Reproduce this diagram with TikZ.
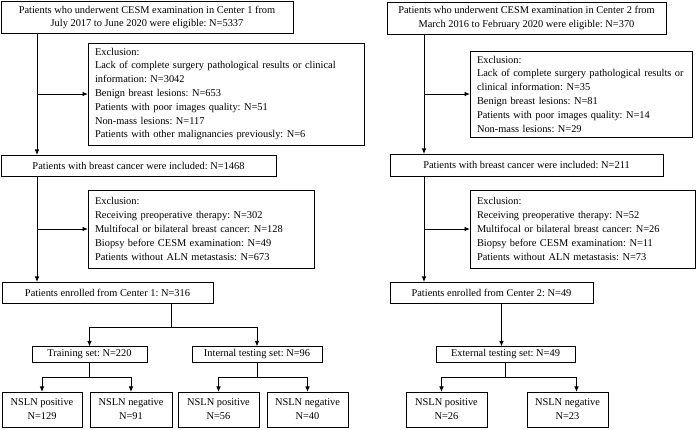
\documentclass[tikz,border=0pt]{standalone}
\usepackage{fontspec}
\setmainfont{Liberation Serif}
\usetikzlibrary{arrows.meta}

\tikzset{
  box/.style={draw, line width=0.9pt, inner sep=0pt, outer sep=0pt, align=center,
    font=\fontsize{10.4}{13.8}\selectfont\frenchspacing},
  exbox/.style={box, align=left, inner xsep=7pt},
  arr/.style={line width=0.9pt, -{Latex[length=5.5pt,width=4.5pt]}},
  line/.style={line width=0.9pt}
}

\begin{document}
\begin{tikzpicture}[x=1pt,y=-1pt]
    \useasboundingbox (0,0) rectangle (697,430);

    % Center 1
    \node[box, minimum width=292pt, minimum height=32pt] (c1top) at (147,17.5)
        {Patients who underwent CESM examination in Center 1 from\\ July 2017 to June 2020 were eligible: N=5337};
    \node[exbox, text width=262pt, minimum height=102pt] (c1exA) at (226,94)
        {Exclusion:\\ Lack of complete surgery pathological results or clinical\\ information: N=3042\\ Benign breast lesions: N=653\\ Patients with poor images quality: N=51\\ Non-mass lesions: N=117\\ Patients with other malignancies previously: N=6};
    \node[box, minimum width=275pt, minimum height=21pt] (c1inc) at (138.5,165.5)
        {Patients with breast cancer were included: N=1468};
    \node[exbox, text width=212pt, minimum height=78pt] (c1exB) at (201,229)
        {Exclusion:\\ Receiving preoperative therapy: N=302\\ Multifocal or bilateral breast cancer: N=128\\ Biopsy before CESM examination: N=49\\ Patients without ALN metastasis: N=673};
    \node[box, minimum width=211pt, minimum height=21pt] (c1enr) at (107.5,292.5)
        {Patients enrolled from Center 1: N=316};
    \node[box, minimum width=115pt, minimum height=16pt] (train) at (89.5,354.5)
        {Training set: N=220};
    \node[box, minimum width=130pt, minimum height=16pt] (inter) at (257,354.5)
        {Internal testing set: N=96};
    \node[box, minimum width=80pt, minimum height=35pt] (trpos) at (42,409.5)
        {NSLN positive\\ N=129};
    \node[box, minimum width=82pt, minimum height=35pt] (trneg) at (131,409.5)
        {NSLN negative\\ N=91};
    \node[box, minimum width=81pt, minimum height=35pt] (inpos) at (218.5,409.5)
        {NSLN positive\\ N=56};
    \node[box, minimum width=81pt, minimum height=35pt] (inneg) at (307.5,409.5)
        {NSLN negative\\ N=40};

    % Center 2
    \node[box, minimum width=279pt, minimum height=32pt] (c2top) at (526.5,18)
        {Patients who underwent CESM examination in Center 2 from\\ March 2016 to February 2020 were eligible: N=370};
    \node[exbox, text width=208pt, minimum height=86pt] (c2exA) at (581,94)
        {Exclusion:\\ Lack of complete surgery pathological results or\\ clinical information: N=35\\ Benign breast lesions: N=81\\ Patients with poor images quality: N=14\\ Non-mass lesions: N=29};
    \node[box, minimum width=273pt, minimum height=22pt] (c2inc) at (526.5,165)
        {Patients with breast cancer were included: N=211};
    \node[exbox, text width=211pt, minimum height=78pt] (c2exB) at (582.5,229)
        {Exclusion:\\ Receiving preoperative therapy: N=52\\ Multifocal or bilateral breast cancer: N=26\\ Biopsy before CESM examination: N=11\\ Patients without ALN metastasis: N=73};
    \node[box, minimum width=203pt, minimum height=21pt] (c2enr) at (491.5,292.5)
        {Patients enrolled from Center 2: N=49};
    \node[box, minimum width=139pt, minimum height=16pt] (ext) at (505.5,354.5)
        {External testing set: N=49};
    \node[box, minimum width=81pt, minimum height=35pt] (expos) at (446.5,409.5)
        {NSLN positive\\ N=26};
    \node[box, minimum width=81pt, minimum height=35pt] (exneg) at (567.5,409.5)
        {NSLN negative\\ N=23};

    % Trunks
    \coordinate (t1) at (37,0);
    \coordinate (t2) at (424,0);
    \coordinate (j1) at (171,327);

    % Arrows, Center 1
    \draw[arr] (c1top.south -| t1) -- (c1inc.north -| t1);
    \draw[arr] (t1 |- c1exA.west) -- (c1exA.west);
    \draw[arr] (c1inc.south -| t1) -- (c1enr.north -| t1);
    \draw[arr] (t1 |- c1exB.west) -- (c1exB.west);
    \draw[line] (c1enr.south -| j1) -- (j1);
    \draw[arr] (j1) -| (train.north);
    \draw[arr] (j1) -| (inter.north);
    \draw[line] (train.south) -- ++(0,15) coordinate (j2);
    \draw[arr] (j2) -| (trpos.north);
    \draw[arr] (j2) -| (trneg.north);
    \draw[line] (inter.south) -- ++(0,15) coordinate (j3);
    \draw[arr] (j3) -| (inpos.north);
    \draw[arr] (j3) -| (inneg.north);

    % Arrows, Center 2
    \draw[arr] (c2top.south -| t2) -- (c2inc.north -| t2);
    \draw[arr] (t2 |- c2exA.west) -- (c2exA.west);
    \draw[arr] (c2inc.south -| t2) -- (c2enr.north -| t2);
    \draw[arr] (t2 |- c2exB.west) -- (c2exB.west);
    \draw[arr] ([xshift=-4pt]c2enr.south -| ext.north) -- ([xshift=-4pt]ext.north);
    \draw[line] (ext.south) -- ++(0,15) coordinate (j4);
    \draw[arr] (j4) -| ([xshift=-5pt]expos.north);
    \draw[arr] (j4) -| ([xshift=9pt]exneg.north);
\end{tikzpicture}
\end{document}
